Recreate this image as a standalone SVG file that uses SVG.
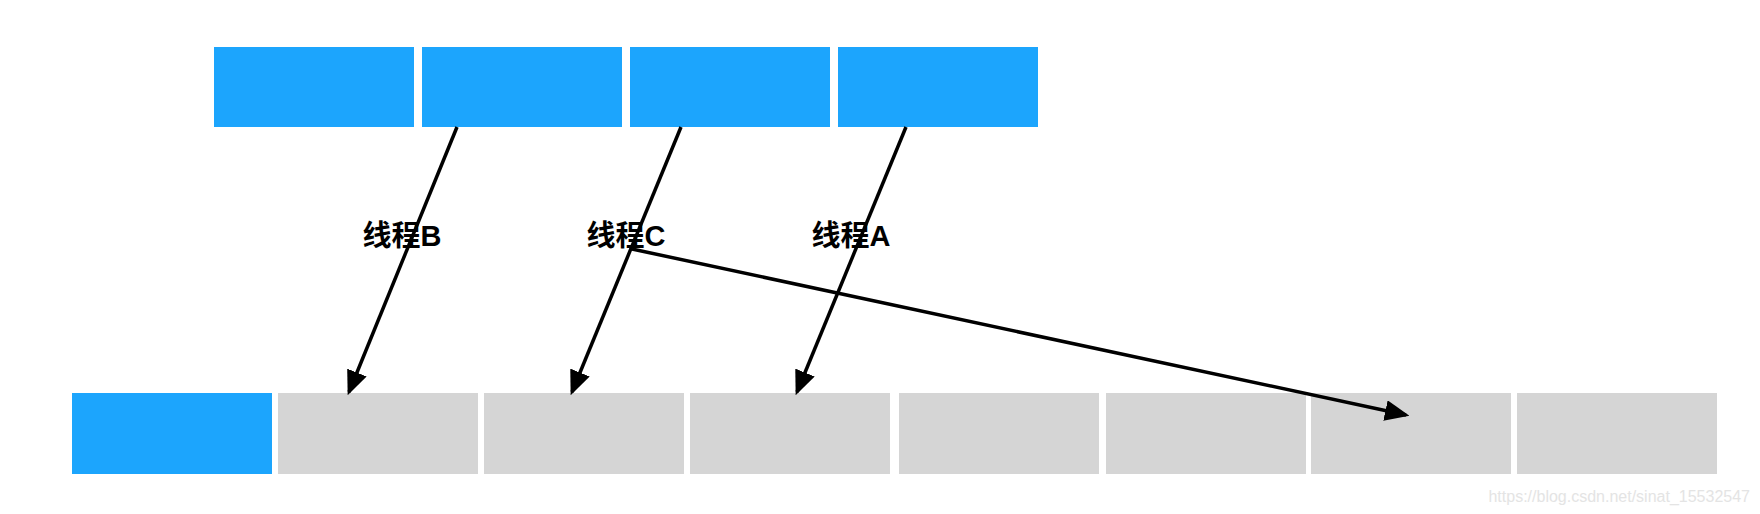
<svg xmlns="http://www.w3.org/2000/svg" width="1760" height="514" viewBox="0 0 1760 514">
<style>
.b{fill:#1ca5fd}.g{fill:#d5d5d5}
.c line{stroke:#000;stroke-width:3.5;marker-end:url(#ah)}
.t{font-family:"Liberation Sans","Noto Sans CJK SC",sans-serif;font-weight:bold;font-size:29px;fill:#000;text-anchor:middle}
.w{font-family:"Liberation Sans",sans-serif;font-size:16px;fill:#e4e4e4;text-anchor:end}
</style>
<defs><marker id="ah" markerWidth="7" markerHeight="6" refX="6" refY="3" orient="auto" markerUnits="strokeWidth"><path d="M0,0L7,3L0,6z" fill="#000"/></marker></defs>
<rect width="1760" height="514" fill="#fff"/>
<g id="top1"><rect class="b" x="214" y="47" width="200" height="80"/></g>
<g id="top2"><rect class="b" x="422" y="47" width="200" height="80"/></g>
<g id="top3"><rect class="b" x="630" y="47" width="200" height="80"/></g>
<g id="top4"><rect class="b" x="838" y="47" width="200" height="80"/></g>
<g id="bot1"><rect class="b" x="72" y="393" width="200" height="81"/></g>
<g id="bot2"><rect class="g" x="278" y="393" width="200" height="81"/></g>
<g id="bot3"><rect class="g" x="484" y="393" width="200" height="81"/></g>
<g id="bot4"><rect class="g" x="690" y="393" width="200" height="81"/></g>
<g id="bot5"><rect class="g" x="899" y="393" width="200" height="81"/></g>
<g id="bot6"><rect class="g" x="1106" y="393" width="200" height="81"/></g>
<g id="bot7"><rect class="g" x="1311" y="393" width="200" height="81"/></g>
<g id="bot8"><rect class="g" x="1517" y="393" width="200" height="81"/></g>
<g id="connectors" class="c">
<line x1="457" y1="127" x2="349" y2="392"/>
<line x1="681" y1="127" x2="572" y2="392"/>
<line x1="906" y1="127" x2="797" y2="392"/>
<line x1="632" y1="249" x2="1406" y2="415"/>
</g>
<g id="labels">
<text class="t" x="402" y="246">线程B</text>
<text class="t" x="626" y="246">线程C</text>
<text class="t" x="851" y="246">线程A</text>
</g>
<text class="w" x="1750" y="502">https://blog.csdn.net/sinat_15532547</text>
</svg>
